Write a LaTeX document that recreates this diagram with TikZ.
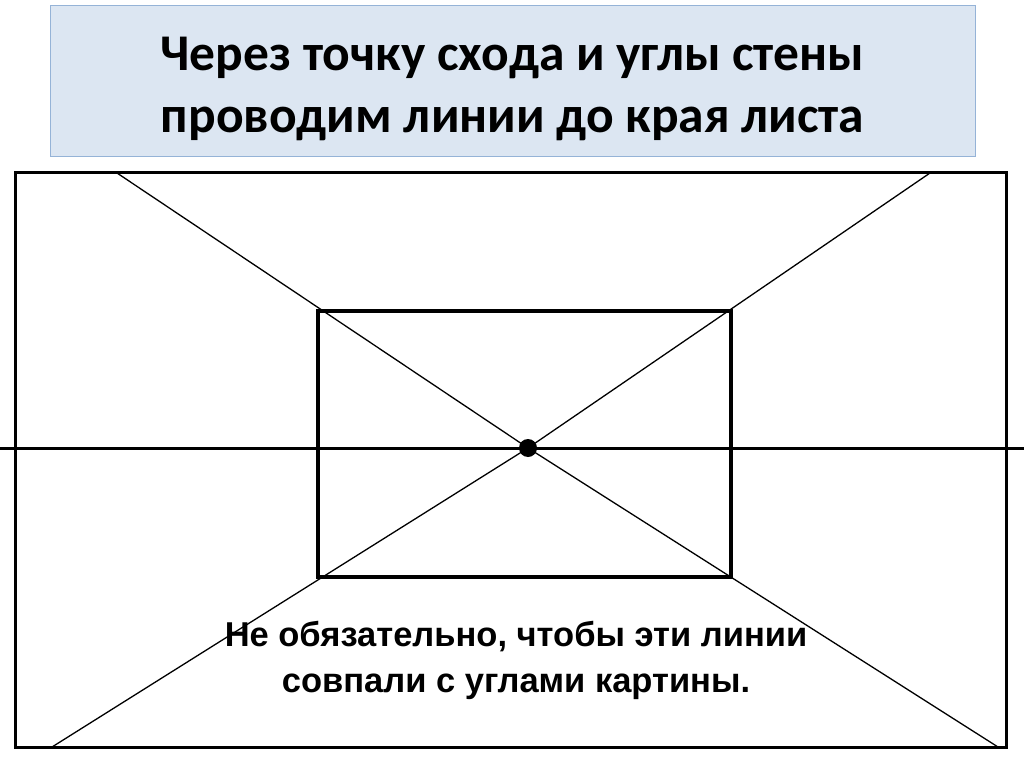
\documentclass[tikz,border=0pt]{standalone}
\usepackage{fontspec}
\newfontfamily\titlefont{Carlito}
\newfontfamily\notefont{Liberation Sans}
\usetikzlibrary{positioning}
\definecolor{titlefill}{RGB}{220,230,242}
\definecolor{titleline}{RGB}{149,179,215}
\begin{document}
\begin{tikzpicture}[x=1pt,y=-1pt,
  titlebox/.style={draw=titleline,fill=titlefill,line width=1pt,minimum width=925pt,minimum height=151pt,inner sep=0pt},
  titletext/.style={align=center,inner sep=0pt,font=\titlefont\bfseries\fontsize{51.5}{62}\selectfont},
  note/.style={align=center,inner sep=0pt,font=\notefont\bfseries\fontsize{34.5}{46}\selectfont},
  frame/.style={line width=3pt},
  wall/.style={line width=4.5pt},
  ray/.style={line width=1.3pt},
  horizon/.style={line width=3pt},
  vpoint/.style={circle,fill=black,inner sep=0pt,minimum size=18pt}]
\useasboundingbox (0,0) rectangle (1024,767);
%title
\node[titlebox] (title) at (512.5,81.5) {};
\node[titletext] (head) at (512.5,89) {Через точку схода и углы стены\\проводим линии до края листа};
%the sheet
\draw[frame] (15,173) rectangle (1006,747);
%lines from the edge of the sheet to the vanishing point
\coordinate (tl) at (117,173); \coordinate (tr) at (930,173);
\coordinate (bl) at (52,747); \coordinate (br) at (998,747);
\coordinate (vpc) at (528,448);
\foreach \c in {tl,tr,bl,br} \draw[ray] (\c) -- (vpc);
%the wall
\draw[wall] (318,311) rectangle (731,577);
%horizon and vanishing point
\coordinate (hl) at (0,448); \coordinate (hr) at (1024,448);
\draw[horizon] (hl) -- (hr);
\node[vpoint] (vp) at (vpc) {};
%note
\node[note] (note) at (516,660) {Не обязательно, чтобы эти линии\\совпали с углами картины.};
\end{tikzpicture}
\end{document}
